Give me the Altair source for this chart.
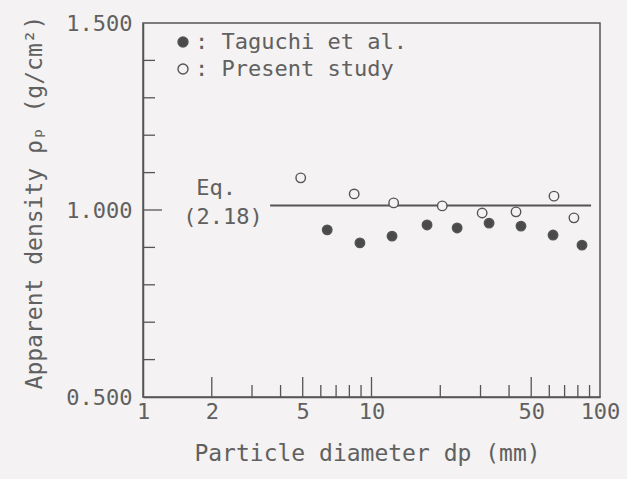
import altair as alt
import pandas as pd

# ---- data ----
series_names = ["Taguchi et al.", "Present study"]
taguchi_d = [6.4, 8.9, 12.3, 17.5, 23.7, 32.7, 45.1, 62.3, 83.4]
taguchi_rho = [0.947, 0.912, 0.930, 0.960, 0.952, 0.965, 0.957, 0.933, 0.906]
present_d = [4.9, 8.4, 12.5, 20.4, 30.5, 42.9, 62.9, 76.9]
present_rho = [1.086, 1.043, 1.019, 1.011, 0.992, 0.995, 1.037, 0.979]

eq_start, eq_end, eq_rho = 3.6, 91.4, 1.012
eq_text = ["Eq.", "(2.18)"]
eq_text_d = [2.09, 2.24]
eq_text_rho = [1.059, 0.981]

x_labels = [1, 2, 5, 10, 50, 100]
x_major = [2, 5, 10, 50]
x_minor = [3, 4, 6, 7, 8, 9, 20, 30, 40, 60, 70, 80, 90]
y_labels = [0.5, 1.0, 1.5]
y_major = [1.0]
y_minor = [0.6, 0.7, 0.8, 0.9, 1.1, 1.2, 1.3, 1.4]

# ---- styling ----
BG = "#f4f2f2"
LINE = "#555555"
TEXT = "#606060"
DARK = "#4a4a4a"
FONT = "DejaVu Sans Mono"
W, H = 457, 374

pts = pd.DataFrame({
    "d": taguchi_d + present_d,
    "rho": taguchi_rho + present_rho,
    "series": [series_names[0]] * len(taguchi_d) + [series_names[1]] * len(present_d),
})

x_scale = alt.Scale(type="log", domain=[1, 100])
y_scale = alt.Scale(domain=[0.5, 1.5])

x_axis = alt.Axis(
    values=x_labels, format="d", ticks=False, tickSize=0, grid=False,
    domainColor=LINE, domainWidth=1.5, labelFont=FONT, labelFontSize=22,
    labelColor=TEXT, labelFlush=False, labelPadding=4,
    titleFont=FONT, titleFontSize=23, titleColor=TEXT, titleFontWeight="normal",
    titleX=224, titleY=56, titleBaseline="middle", titleAlign="center",
)
y_axis = alt.Axis(
    values=y_labels, format=".3f", ticks=False, tickSize=0, grid=False,
    domainColor=LINE, domainWidth=1.5, labelFont=FONT, labelFontSize=22,
    labelColor=TEXT, labelFlush=False, labelPadding=11, labelBaseline="middle",
    titleFont=FONT, titleFontSize=23, titleColor=TEXT, titleFontWeight="normal",
    titleX=-109, titleY=179, titleAngle=270, titleBaseline="middle", titleAlign="center",
)

points = alt.Chart(pts).mark_point(
    filled=True, size=90, stroke=LINE, strokeWidth=1.4, opacity=1
).encode(
    x=alt.X("d:Q", scale=x_scale, axis=x_axis, title="Particle diameter dp (mm)"),
    y=alt.Y("rho:Q", scale=y_scale, axis=y_axis, title="Apparent density ρₚ (g/cm²)"),
    fill=alt.Fill(
        "series:N",
        scale=alt.Scale(domain=series_names, range=[DARK, BG]),
        legend=alt.Legend(
            title=None, orient="none", legendX=29, legendY=8, padding=0,
            symbolType="circle", symbolSize=100, symbolStrokeColor=LINE,
            symbolStrokeWidth=1.4, labelFont=FONT, labelFontSize=22,
            labelColor=TEXT, labelOffset=1, rowPadding=5, labelLimit=400,
            labelExpr="': ' + datum.label",
        ),
    ),
)

eq_line = alt.Chart(pd.DataFrame({"d": [eq_start], "d2": [eq_end], "rho": [eq_rho]})).mark_rule(
    color=LINE, strokeWidth=2
).encode(
    x=alt.X("d:Q", scale=x_scale), x2="d2:Q", y=alt.Y("rho:Q", scale=y_scale)
)

eq_label = alt.Chart(pd.DataFrame({"d": eq_text_d, "rho": eq_text_rho, "t": eq_text})).mark_text(
    font=FONT, fontSize=22, color=TEXT, align="center", baseline="middle"
).encode(
    x=alt.X("d:Q", scale=x_scale), y=alt.Y("rho:Q", scale=y_scale), text="t:N"
)

def yticks(vals, length):
    return alt.Chart(pd.DataFrame({"rho": vals})).mark_rule(color=LINE, strokeWidth=1.3).encode(
        y=alt.Y("rho:Q", scale=y_scale), x=alt.value(0), x2=alt.value(length)
    )

def xticks(vals, length):
    return alt.Chart(pd.DataFrame({"d": vals})).mark_rule(color=LINE, strokeWidth=1.3).encode(
        x=alt.X("d:Q", scale=x_scale), y=alt.value(H), y2=alt.value(H - length)
    )

chart = alt.layer(
    yticks(y_minor, 12), yticks(y_major, 19),
    xticks(x_minor, 12), xticks(x_major, 20),
    eq_line, eq_label, points,
).properties(
    width=W, height=H,
    autosize=alt.AutoSizeParams(type="none"),
    padding={"left": 143, "top": 23, "right": 27, "bottom": 82},
    background=BG,
).configure_view(stroke=LINE, strokeWidth=1.5)

chart.save("out.html", embed_options={"renderer": "svg", "actions": False})
